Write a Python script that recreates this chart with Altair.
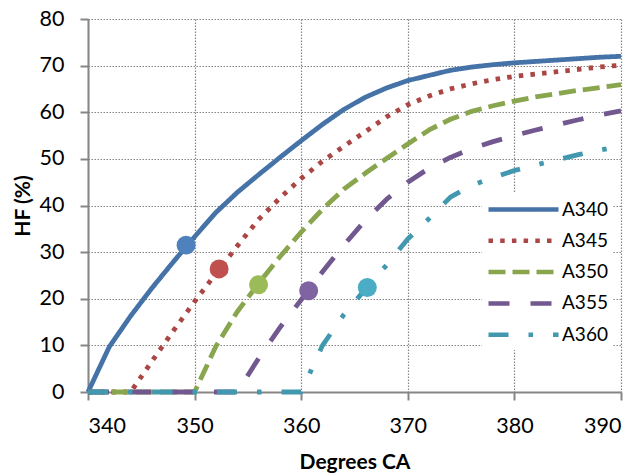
import altair as alt
import pandas as pd

angles = [340, 342, 344, 346, 348, 350, 352, 354, 356, 358, 360, 362, 364,
          366, 368, 370, 372, 374, 376, 378, 380, 382, 384, 386, 388, 390]
a340 = [0, 9.7, 16.3, 22.3, 27.9, 33.3, 38.5, 42.8, 46.6, 50.3, 53.9, 57.4, 60.6,
        63.2, 65.2, 66.8, 67.9, 69.0, 69.7, 70.2, 70.6, 70.9, 71.2, 71.5, 71.8, 72.0]
a345 = [0, 0, 0, 6.6, 13.1, 19.4, 25.4, 31.3, 37.0, 41.6, 45.8, 49.5, 52.7,
        55.8, 59.0, 61.6, 63.5, 65.0, 66.1, 67.0, 67.7, 68.2, 68.7, 69.2, 69.7, 70.1]
a350 = [0, 0, 0, 0, 0, 0, 9.8, 17.2, 23.3, 29.0, 34.3, 39.2, 43.5,
        46.9, 50.1, 53.2, 56.2, 58.5, 60.2, 61.4, 62.4, 63.3, 64.0, 64.7, 65.3, 65.9]
a355 = [0, 0, 0, 0, 0, 0, 0, 0, 7.2, 13.8, 19.8, 25.8, 31.5,
        36.8, 41.3, 45.0, 48.0, 50.3, 52.2, 53.7, 55.0, 56.2, 57.3, 58.4, 59.4, 60.3]
a360 = [0, 0, 0, 0, 0, 0, 0, 0, 0, 0, 0, 10.0, 16.6,
        22.0, 27.2, 32.8, 37.2, 41.8, 44.3, 46.0, 47.5, 48.7, 49.8, 50.9, 51.9, 52.7]

series = ["A340", "A345", "A350", "A355", "A360"]
marker_x = [349.2, 352.3, 356.0, 360.7, 366.2]
marker_y = [31.5, 26.4, 23.0, 21.7, 22.4]

x_ticks = [340, 350, 360, 370, 380, 390]
y_ticks = [0, 10, 20, 30, 40, 50, 60, 70, 80]

line_colors = ["#4572A7", "#AA4643", "#89A54E", "#71588F", "#4198AF"]
marker_colors = ["#4F81BD", "#C0504D", "#9BBB59", "#8064A2", "#4BACC6"]
dashes = [[1, 0], [4.5, 7.2], [17, 7], [21, 21], [20, 20, 4.5, 20]]

rows = []
for s, vals in zip(series, [a340, a345, a350, a355, a360]):
    for xv, yv in zip(angles, vals):
        rows.append({"angle": xv, "hf": yv, "series": s})
df = pd.DataFrame(rows)
mdf = pd.DataFrame({"angle": marker_x, "hf": marker_y, "series": series,
                    "mcolor": marker_colors})

FONT = "Lato"
GRAY = "#868686"

x_enc = alt.X("angle:Q",
              scale=alt.Scale(domain=[340, 390], nice=False, zero=False),
              axis=alt.Axis(values=x_ticks, title="Degrees CA", titleY=76,
                            titleBaseline="alphabetic", labelPadding=15))
y_enc = alt.Y("hf:Q",
              scale=alt.Scale(domain=[0, 80], nice=False),
              axis=alt.Axis(values=y_ticks, title="HF (%)", titleX=-65,
                            titleY=186.5, titleBaseline="middle",
                            titleAlign="center", labelPadding=16))

leg = alt.Legend(title=None, orient="none", legendX=394, legendY=173,
                 fillColor="white", padding=5, rowPadding=8.3,
                 symbolType="M-3.5,0H3.5", symbolSize=400,
                 symbolStrokeWidth=4.5, symbolOffset=24, labelOffset=26,
                 labelFont=FONT, labelFontSize=19, labelColor="black")

lines = alt.Chart(df).mark_line(strokeWidth=4.8, strokeCap="butt",
                                strokeJoin="round").encode(
    x=x_enc, y=y_enc,
    color=alt.Color("series:N", scale=alt.Scale(domain=series, range=line_colors),
                    legend=leg),
    strokeDash=alt.StrokeDash("series:N", scale=alt.Scale(domain=series, range=dashes),
                              legend=leg),
    order=alt.Order("angle:Q"),
)

markers = alt.Chart(mdf).mark_point(filled=True, size=360, opacity=1,
                                    shape="circle").encode(
    x="angle:Q", y="hf:Q",
    fill=alt.Fill("mcolor:N", scale=None),
)

chart = alt.layer(lines, markers).properties(
    width=533, height=373,
    autosize=alt.AutoSizeParams(type="none"),
    padding={"left": 80, "top": 11, "right": 13, "bottom": 82},
).configure_view(stroke=None).configure_axis(
    grid=True, gridColor=GRAY, gridDash=[1.5, 1.5], gridWidth=1.2,
    domainColor=GRAY, domainWidth=2, tickColor=GRAY, tickWidth=2, tickSize=8,
    labelFont=FONT, labelFontSize=21.5, labelColor="black",
    titleFont=FONT, titleFontSize=21, titleFontWeight="bold", titleColor="black",
)

chart.save("out.html", embed_options={"renderer": "svg", "actions": False})
